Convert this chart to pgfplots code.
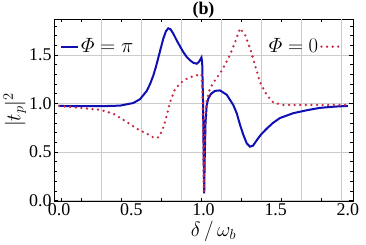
\documentclass[border=0pt]{standalone}
\usepackage{amsmath}
\usepackage{fontspec}
\setmainfont{Liberation Serif}
\usepackage{pgfplots}
\pgfplotsset{compat=1.18}
\definecolor{bblue}{RGB}{15,15,180}
\definecolor{rred}{RGB}{200,40,65}
\pgfplotsset{
  common/.style={
    at={(0,0)}, anchor=south west, scale only axis,
    width=299bp, height=182bp,
    xmin=-0.035, xmax=2.035, ymin=-0.005, ymax=1.871,
  },
}
\begin{document}
\begin{tikzpicture}
\path[use as bounding box] (-54bp,-44bp) rectangle (312bp,201bp);
\begin{axis}[common,
  xtick={0,0.5,1,1.5,2}, xticklabels={0.0,0.5,1.0,1.5,2.0},
  ytick={0,0.5,1,1.5}, yticklabels={0.0,0.5,1.0,1.5},
  minor xtick={0.0138,0.152,0.291,0.429,0.567,0.706,0.844,0.983,1.121,1.260,1.398,1.536,1.675,1.813,1.952},
  minor ytick={0.1,0.2,0.3,0.4,0.6,0.7,0.8,0.9,1.1,1.2,1.3,1.4,1.6,1.7,1.8},
  extra x ticks={0.291,0.567,0.844,1.121,1.398,1.675,1.952},
  extra x tick labels={},
  extra x tick style={grid=major, major tick length=0pt},
  ymajorgrids,
  grid style={black!20, line width=0.6bp},
  major tick length=4bp,
  minor tick length=3bp,
  xtick style={draw=none},
  tick style={black, line width=0.6bp},
  minor x tick style={draw=black},
  axis line style={line width=0.9bp},
  every tick label/.append style={font=\fontsize{18}{18}\selectfont},
  xticklabel style={yshift=1bp},
  yticklabel style={xshift=1bp},
  xlabel={$\delta\,/\,\omega_b$},
  ylabel={$|t_p|^2$},
  label style={font=\fontsize{20}{20}\selectfont},
  xlabel style={yshift=2bp, xshift=10bp},
  ylabel style={yshift=-4bp},
  title={\textbf{(b)}},
  title style={font=\fontsize{18}{18}\selectfont, yshift=-9bp},
  legend style={at={(0.02,0.848)}, anchor=west, draw=none, fill=none, inner sep=0pt,
    font=\fontsize{22}{22}\selectfont},
]
\addplot[bblue, line width=2bp] coordinates {
(0.000,0.975) (0.145,0.972) (0.284,0.972) (0.422,0.978) (0.514,1.005) (0.561,1.045)
(0.607,1.13) (0.630,1.20) (0.653,1.29) (0.671,1.38) (0.687,1.47) (0.706,1.58)
(0.722,1.67) (0.740,1.745) (0.756,1.775) (0.772,1.765) (0.791,1.72) (0.813,1.655)
(0.837,1.59) (0.860,1.53) (0.884,1.48) (0.907,1.445) (0.929,1.42) (0.953,1.41)
(0.969,1.43) (0.986,1.475) (0.991,1.42) (0.997,1.0) (1.0015,0.4) (1.005,0.075)
(1.008,0.4) (1.014,0.8) (1.022,0.98) (1.033,1.05) (1.052,1.10) (1.080,1.13)
(1.114,1.135) (1.161,1.09) (1.206,0.985) (1.230,0.90) (1.253,0.78) (1.275,0.68)
(1.299,0.59) (1.322,0.555) (1.343,0.565) (1.368,0.62) (1.398,0.68) (1.437,0.74)
(1.481,0.80) (1.529,0.85) (1.621,0.90) (1.714,0.93) (1.806,0.955) (1.910,0.968)
(2.000,0.975)
};
\addlegendentry{$\varPhi=\pi$}
\end{axis}
\begin{axis}[common, hide axis,
  legend plot pos=right,
  legend style={at={(0.9565,0.848)}, anchor=east, draw=none, fill=none, inner sep=0pt,
    font=\fontsize{22}{22}\selectfont},
]
\addplot[rred, line width=2.6bp, line cap=round, dash pattern=on 0bp off 5.6bp] coordinates {
(0.000,0.975) (0.145,0.955) (0.284,0.935) (0.376,0.895) (0.469,0.81) (0.538,0.74)
(0.607,0.69) (0.653,0.65) (0.676,0.645) (0.692,0.655) (0.713,0.72) (0.734,0.81)
(0.768,1.01) (0.803,1.15) (0.849,1.22) (0.895,1.265) (0.953,1.29) (0.976,1.305)
(0.986,1.30) (0.993,1.1) (0.999,0.5) (1.002,0.09) (1.007,0.5) (1.014,0.9)
(1.021,1.02) (1.045,1.157) (1.080,1.24) (1.114,1.31) (1.149,1.40) (1.183,1.50)
(1.218,1.63) (1.253,1.775) (1.287,1.71) (1.322,1.57) (1.356,1.40) (1.391,1.22)
(1.437,1.09) (1.483,1.01) (1.552,0.985) (1.668,0.985) (1.806,0.985) (2.000,0.985)
};
\addlegendentry{$\varPhi=0$}
\end{axis}
\end{tikzpicture}
\end{document}
